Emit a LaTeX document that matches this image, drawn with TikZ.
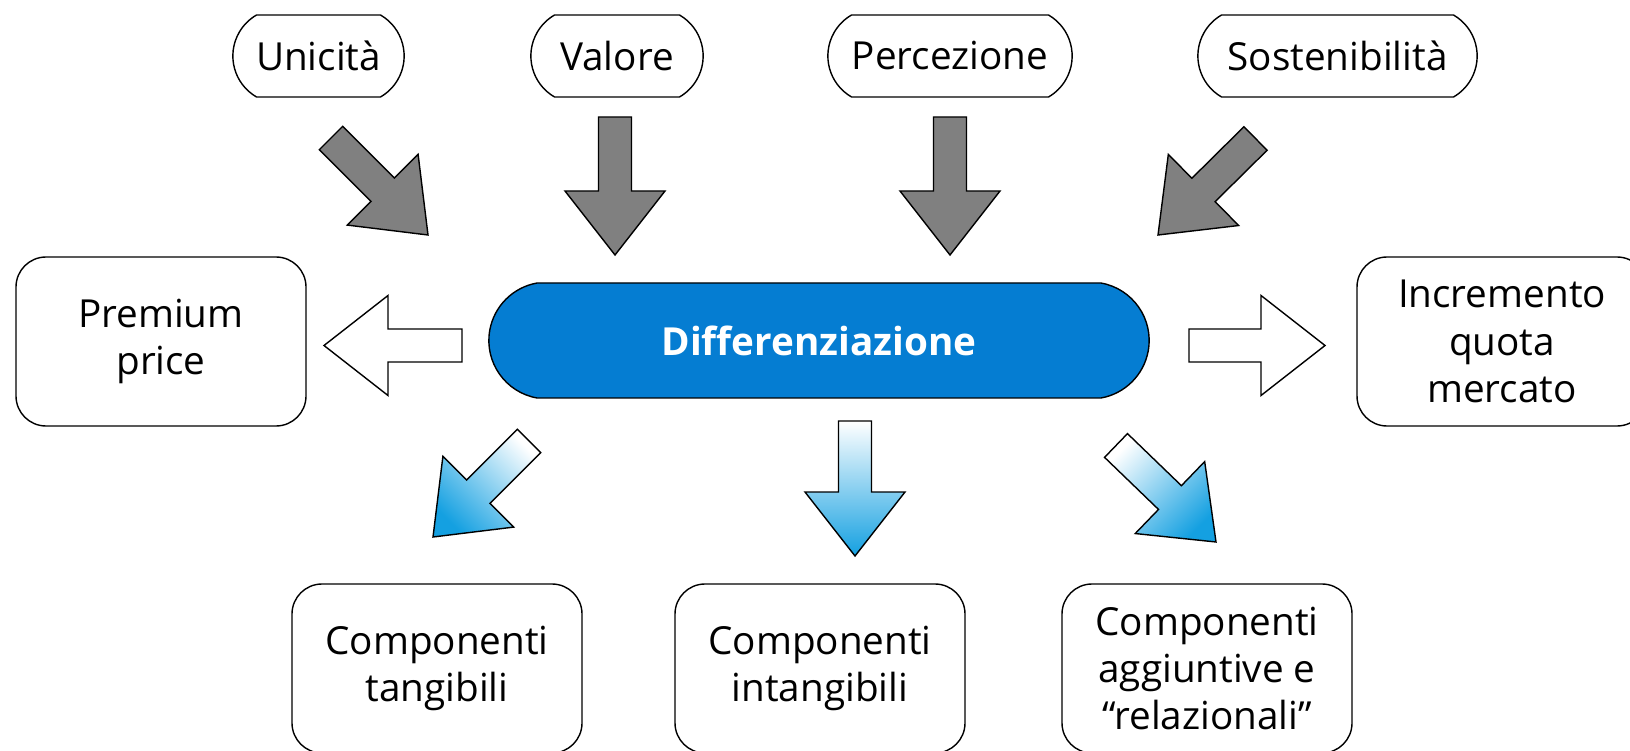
\documentclass[tikz,border=0pt]{standalone}
\usepackage{fontspec}
\setmainfont{Open Sans}
\usepackage{tikz}
\usetikzlibrary{calc,shapes.misc}
\definecolor{arrowgrey}{RGB}{128,128,128}
\definecolor{diffblue}{RGB}{5,125,210}
\definecolor{gradblue}{RGB}{20,160,225}
% block arrow from tail to tip: shaft 0.66cm, head 2cm wide, 1.28cm long
\newcommand{\fatarrow}[3]{%
    \draw[#1] ($(#2)!0.33cm!90:(#3)$) -- ($(#3)!1.28cm!(#2)!0.33cm!-90:(#2)$)
        -- ($(#3)!1.28cm!(#2)!1cm!-90:(#2)$) -- (#3)
        -- ($(#3)!1.28cm!(#2)!1cm!90:(#2)$) -- ($(#3)!1.28cm!(#2)!0.33cm!90:(#2)$)
        -- ($(#2)!0.33cm!-90:(#3)$) -- cycle;}
\tikzset{
    pill/.style={draw,line width=0.8pt,rounded rectangle,rounded rectangle arc length=120,minimum height=1.64cm},
    main pill/.style={pill,rounded rectangle arc length=160,fill=diffblue,minimum height=2.3cm,text=white,font=\fontsize{22}{27}\selectfont\bfseries},
    result box/.style={draw,line width=0.8pt,rounded corners=0.6cm,minimum width=5.8cm,minimum height=3.38cm,align=center},
    grey arrow/.style={draw,line width=0.8pt,fill=arrowgrey},
    white arrow/.style={draw,line width=0.8pt,fill=white},
    shaded arrow/.style={draw,line width=0.8pt,top color=white,bottom color=gradblue},
}
\tikzstyle{every node}=[font=\fontsize{22}{27}\selectfont]

\begin{document}
\begin{tikzpicture}
    \useasboundingbox (0,0) rectangle (32.6,-15.02);
    % drivers
    \node[pill,minimum width=3.66cm] (unicita) at (6.37,-1.12) {Unicità};
    \node[pill,minimum width=3.68cm] (valore) at (12.34,-1.12) {Valore};
    \node[pill,minimum width=5.12cm] (percezione) at (19,-1.12) {Percezione};
    \node[pill,minimum width=5.82cm] (sostenibilita) at (26.75,-1.12) {Sostenibilità};
    % centre
    \node[main pill,minimum width=13.44cm] (diff) at (16.38,-6.81) {Differenziazione};
    \node[result box] (premium) at (3.22,-6.83) {Premium\\price};
    \node[result box] (quota) at (30.04,-6.83) {Incremento\\quota\\mercato};
    % components
    \node[result box] (tangibili) at (8.74,-13.37) {Componenti\\tangibili};
    \node[result box] (intangibili) at (16.4,-13.37) {Componenti\\intangibili};
    \node[result box] (relazionali) at (24.14,-13.37) {Componenti\\aggiuntive e\\“relazionali”};

    \coordinate (u1) at (6.62,-2.76);  \coordinate (u2) at (8.56,-4.70);
    \coordinate (v1) at (12.30,-2.34); \coordinate (v2) at (12.30,-5.10);
    \coordinate (p1) at (19,-2.34);    \coordinate (p2) at (19,-5.10);
    \coordinate (s1) at (25.11,-2.77); \coordinate (s2) at (23.16,-4.70);
    \coordinate (l1) at (9.24,-6.91);  \coordinate (l2) at (6.48,-6.91);
    \coordinate (r1) at (23.78,-6.91); \coordinate (r2) at (26.50,-6.91);
    \coordinate (a1) at (10.58,-8.82); \coordinate (a2) at (8.66,-10.74);
    \coordinate (b1) at (17.1,-8.42);  \coordinate (b2) at (17.1,-11.12);
    \coordinate (c1) at (22.32,-8.91); \coordinate (c2) at (24.32,-10.84);

    \fatarrow{grey arrow}{u1}{u2}
    \fatarrow{grey arrow}{v1}{v2}
    \fatarrow{grey arrow}{p1}{p2}
    \fatarrow{grey arrow}{s1}{s2}
    \fatarrow{white arrow}{l1}{l2}
    \fatarrow{white arrow}{r1}{r2}
    \fatarrow{shaded arrow,shading angle=-45}{a1}{a2}
    \fatarrow{shaded arrow}{b1}{b2}
    \fatarrow{shaded arrow,shading angle=45}{c1}{c2}
\end{tikzpicture}
\end{document}
